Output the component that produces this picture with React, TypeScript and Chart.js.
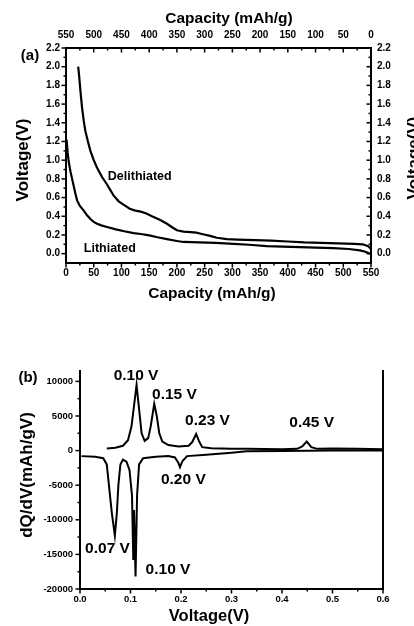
import React, { useEffect, useRef } from "react";
import { Chart, registerables } from "chart.js";

Chart.register(...registerables);

const FONT = "'Liberation Sans', Arial, Helvetica, sans-serif";

// ---------------- Panel (a): voltage profiles ----------------
const DELITH_CAP = [22, 24, 26, 29, 32, 35, 40, 44, 50, 56, 65, 74, 80, 86, 95, 105, 115, 125, 135, 145, 155, 170, 182, 192, 200, 212, 225, 235, 245, 260, 272, 290, 310, 340, 370, 400, 430, 460, 490, 520, 535, 545, 550];
const DELITH_V = [2.0, 1.88, 1.74, 1.56, 1.42, 1.31, 1.19, 1.1, 1.0, 0.92, 0.82, 0.74, 0.68, 0.62, 0.56, 0.52, 0.48, 0.46, 0.45, 0.43, 0.4, 0.36, 0.32, 0.28, 0.25, 0.235, 0.23, 0.225, 0.21, 0.19, 0.17, 0.155, 0.15, 0.145, 0.14, 0.13, 0.12, 0.115, 0.11, 0.105, 0.1, 0.08, 0.05];

const LITH_CAP = [1, 3, 5, 8, 11, 14, 17, 20, 25, 32, 38, 44, 50, 56, 65, 74, 90, 105, 122, 135, 150, 165, 182, 200, 212, 240, 270, 302, 330, 362, 390, 422, 450, 482, 510, 530, 540, 548];
const LITH_V = [1.22, 1.08, 0.98, 0.88, 0.8, 0.72, 0.64, 0.57, 0.51, 0.46, 0.41, 0.37, 0.34, 0.32, 0.3, 0.285, 0.26, 0.24, 0.22, 0.21, 0.195, 0.175, 0.155, 0.135, 0.125, 0.12, 0.115, 0.105, 0.095, 0.08, 0.075, 0.07, 0.065, 0.06, 0.05, 0.035, 0.02, 0.0];

const CAP_TICKS = [0, 50, 100, 150, 200, 250, 300, 350, 400, 450, 500, 550];
const VOLT_TICKS = [0, 0.2, 0.4, 0.6, 0.8, 1.0, 1.2, 1.4, 1.6, 1.8, 2.0, 2.2];
const A_CURVE_LABELS = ["Delithiated", "Lithiated"];
const A_CURVE_LABEL_CAP = [133, 79];
const A_CURVE_LABEL_V = [0.83, 0.057];

// ---------------- Panel (b): dQ/dV ----------------
const B_DELITH_V = [0.053, 0.07, 0.085, 0.095, 0.102, 0.107, 0.112, 0.117, 0.122, 0.128, 0.135, 0.14, 0.147, 0.152, 0.157, 0.163, 0.175, 0.195, 0.215, 0.222, 0.23, 0.236, 0.242, 0.26, 0.3, 0.33, 0.4, 0.43, 0.44, 0.449, 0.458, 0.47, 0.5, 0.55, 0.6];
const B_DELITH_DQ = [300, 400, 700, 1500, 3500, 6500, 9500, 6000, 2500, 1400, 1800, 3500, 6750, 5000, 2500, 1300, 800, 600, 700, 1200, 2400, 1300, 500, 350, 250, 250, 200, 250, 600, 1300, 500, 250, 300, 250, 200];

const B_LITH_V = [0.003, 0.03, 0.046, 0.053, 0.058, 0.063, 0.069, 0.073, 0.076, 0.08, 0.085, 0.092, 0.098, 0.103, 0.1055, 0.107, 0.11, 0.113, 0.117, 0.125, 0.15, 0.175, 0.188, 0.195, 0.198, 0.203, 0.212, 0.25, 0.3, 0.33, 0.4, 0.5, 0.6];
const B_LITH_DQ = [-800, -900, -1100, -2000, -5500, -9000, -12300, -9000, -5000, -2000, -1300, -1600, -2800, -6500, -15800, -8600, -18200, -6500, -2000, -1100, -900, -800, -1000, -1800, -2400, -1500, -800, -600, -300, -100, -50, 0, 0];

const VB_TICKS = [0, 0.1, 0.2, 0.3, 0.4, 0.5, 0.6];
const DQ_TICKS = [-20000, -15000, -10000, -5000, 0, 5000, 10000];
const B_PEAK_LABELS = ["0.10 V", "0.15 V", "0.23 V", "0.45 V", "0.20 V", "0.07 V", "0.10 V"];
const B_PEAK_LABEL_V = [0.111, 0.187, 0.2525, 0.4588, 0.2046, 0.0545, 0.1743];
const B_PEAK_LABEL_DQ = [10800, 8050, 4340, 3960, -4240, -14110, -17250];

// ---------------- helpers ----------------
type TickSpec = { major: number[]; dir: "in" | "out" };
type FreeText = { text: string; x: number; y: number; size: number; rot?: number };
type DataText = { text: string; x: number; y: number; size: number };

const minorOf = (major: number[]) => major.slice(1).map((v, i) => (v + major[i]) / 2);

function tickMarksPlugin(spec: Record<string, TickSpec>) {
  return {
    id: "tickMarks",
    afterDraw(chart: any) {
      const ctx = chart.ctx;
      ctx.save();
      ctx.strokeStyle = "#000";
      ctx.lineWidth = 1.5;
      for (const id of Object.keys(spec)) {
        const s = chart.scales[id];
        if (!s) continue;
        const { major, dir } = spec[id];
        const pos = s.options.position;
        let edge: number;
        let sign: number;
        if (pos === "bottom") { edge = s.top; sign = 1; }
        else if (pos === "top") { edge = s.bottom; sign = -1; }
        else if (pos === "left") { edge = s.right; sign = -1; }
        else { edge = s.left; sign = 1; }
        if (dir === "in") sign = -sign;
        const draw = (v: number, len: number) => {
          const p = s.getPixelForValue(v);
          ctx.beginPath();
          if (s.isHorizontal()) { ctx.moveTo(p, edge); ctx.lineTo(p, edge + sign * len); }
          else { ctx.moveTo(edge, p); ctx.lineTo(edge + sign * len, p); }
          ctx.stroke();
        };
        major.forEach((v) => draw(v, 4.5));
        minorOf(major).forEach((v) => draw(v, 2.5));
      }
      ctx.restore();
    },
  };
}

function textPlugin(free: FreeText[], data: DataText[]) {
  return {
    id: "texts",
    afterDraw(chart: any) {
      const ctx = chart.ctx;
      ctx.save();
      ctx.fillStyle = "#000";
      ctx.textAlign = "center";
      ctx.textBaseline = "middle";
      for (const t of free) {
        ctx.save();
        ctx.translate(t.x, t.y);
        if (t.rot) ctx.rotate(t.rot);
        ctx.font = `bold ${t.size}px ${FONT}`;
        ctx.fillText(t.text, 0, 0);
        ctx.restore();
      }
      for (const t of data) {
        const x = chart.scales.x.getPixelForValue(t.x);
        const y = chart.scales.y.getPixelForValue(t.y);
        ctx.font = `bold ${t.size}px ${FONT}`;
        ctx.fillText(t.text, x, y);
      }
      ctx.restore();
    },
  };
}

function linAxis(o: {
  position: string; min: number; max: number; ticks: number[]; fmt: (v: number) => string;
  size: number; fontSize: number; padding: number; reverse?: boolean; showLabels?: boolean;
}) {
  const horizontal = o.position === "top" || o.position === "bottom";
  return {
    type: "linear",
    position: o.position,
    min: o.min,
    max: o.max,
    reverse: !!o.reverse,
    grid: { display: false, drawOnChartArea: false, drawTicks: false },
    border: { display: true, color: "#000", width: 2 },
    ticks: {
      display: o.showLabels !== false,
      color: "#000",
      font: { family: FONT, size: o.fontSize, weight: "bold" },
      padding: o.padding,
      autoSkip: false,
      maxRotation: 0,
      minRotation: 0,
      callback: (v: any) => o.fmt(Number(v)),
    },
    afterBuildTicks: (s: any) => {
      s.ticks = o.ticks.map((v) => ({ value: v }));
    },
    afterFit: (s: any) => {
      if (horizontal) s.height = o.size;
      else s.width = o.size;
    },
  };
}

function makePanelA(canvas: HTMLCanvasElement) {
  const delith = DELITH_CAP.map((c, i) => ({ x: c, y: DELITH_V[i] }));
  const lith = LITH_CAP.map((c, i) => ({ x: c, y: LITH_V[i] }));
  const capFmt = (v: number) => String(Math.round(v));
  const vFmt = (v: number) => v.toFixed(1);
  const free: FreeText[] = [
    { text: "Capacity (mAh/g)", x: 229, y: 19, size: 15.5 },
    { text: "Capacity (mAh/g)", x: 212, y: 294, size: 15.5 },
    { text: "Voltage(V)", x: 23, y: 160, size: 17, rot: -Math.PI / 2 },
    { text: "Voltage(V)", x: 414, y: 158, size: 17, rot: -Math.PI / 2 },
    { text: "(a)", x: 30, y: 56, size: 15 },
  ];
  const dataTexts: DataText[] = A_CURVE_LABELS.map((t, i) => ({
    text: t, x: A_CURVE_LABEL_CAP[i], y: A_CURVE_LABEL_V[i], size: 12.5,
  }));
  return new Chart(canvas, {
    type: "scatter",
    data: {
      datasets: [
        { data: delith, showLine: true, borderColor: "#000", borderWidth: 2.2, pointRadius: 0, tension: 0 },
        { data: lith, showLine: true, borderColor: "#000", borderWidth: 2.2, pointRadius: 0, tension: 0 },
      ],
    },
    options: {
      animation: false,
      responsive: false,
      maintainAspectRatio: false,
      layout: { padding: 0 },
      plugins: { legend: { display: false }, tooltip: { enabled: false }, title: { display: false } },
      scales: {
        x: linAxis({ position: "bottom", min: 0, max: 550, ticks: CAP_TICKS, fmt: capFmt, size: 47, fontSize: 10, padding: 4 }),
        x2: linAxis({ position: "top", min: 0, max: 550, ticks: CAP_TICKS, fmt: capFmt, size: 48, fontSize: 10, padding: 7, reverse: true }),
        y: linAxis({ position: "left", min: -0.1, max: 2.2, ticks: VOLT_TICKS, fmt: vFmt, size: 66, fontSize: 10, padding: 6 }),
        y2: linAxis({ position: "right", min: -0.1, max: 2.2, ticks: VOLT_TICKS, fmt: vFmt, size: 43, fontSize: 10, padding: 6 }),
      } as any,
    },
    plugins: [
      tickMarksPlugin({
        x: { major: CAP_TICKS, dir: "out" },
        x2: { major: CAP_TICKS, dir: "in" },
        y: { major: VOLT_TICKS, dir: "out" },
        y2: { major: VOLT_TICKS, dir: "in" },
      }),
      textPlugin(free, dataTexts),
    ],
  } as any);
}

function makePanelB(canvas: HTMLCanvasElement) {
  const delith = B_DELITH_V.map((v, i) => ({ x: v, y: B_DELITH_DQ[i] }));
  const lith = B_LITH_V.map((v, i) => ({ x: v, y: B_LITH_DQ[i] }));
  const vFmt = (v: number) => v.toFixed(1);
  const dqFmt = (v: number) => String(Math.round(v));
  const free: FreeText[] = [
    { text: "(b)", x: 28, y: 68, size: 15 },
    { text: "dQ/dV(mAh/gV)", x: 27, y: 165, size: 17, rot: -Math.PI / 2 },
    { text: "Voltage(V)", x: 209, y: 306, size: 16.5 },
  ];
  const dataTexts: DataText[] = B_PEAK_LABELS.map((t, i) => ({
    text: t, x: B_PEAK_LABEL_V[i], y: B_PEAK_LABEL_DQ[i], size: 15.5,
  }));
  return new Chart(canvas, {
    type: "scatter",
    data: {
      datasets: [
        { data: delith, showLine: true, borderColor: "#000", borderWidth: 2, pointRadius: 0, tension: 0 },
        { data: lith, showLine: true, borderColor: "#000", borderWidth: 2, pointRadius: 0, tension: 0 },
      ],
    },
    options: {
      animation: false,
      responsive: false,
      maintainAspectRatio: false,
      layout: { padding: { top: 61, left: 0, right: 0, bottom: 0 } },
      plugins: { legend: { display: false }, tooltip: { enabled: false }, title: { display: false } },
      scales: {
        x: linAxis({ position: "bottom", min: 0, max: 0.6, ticks: VB_TICKS, fmt: vFmt, size: 37, fontSize: 9.5, padding: 5 }),
        y: linAxis({ position: "left", min: -20000, max: 11500, ticks: DQ_TICKS, fmt: dqFmt, size: 80, fontSize: 9.5, padding: 7 }),
        y2: linAxis({ position: "right", min: -20000, max: 11500, ticks: DQ_TICKS, fmt: dqFmt, size: 31, fontSize: 9.5, padding: 6, showLabels: false }),
      } as any,
    },
    plugins: [
      tickMarksPlugin({
        x: { major: VB_TICKS, dir: "out" },
        y: { major: DQ_TICKS, dir: "out" },
      }),
      textPlugin(free, dataTexts),
    ],
  } as any);
}

export default function App() {
  const refA = useRef<HTMLCanvasElement | null>(null);
  const refB = useRef<HTMLCanvasElement | null>(null);

  useEffect(() => {
    const a = refA.current ? makePanelA(refA.current) : null;
    const b = refB.current ? makePanelB(refB.current) : null;
    return () => {
      a?.destroy();
      b?.destroy();
    };
  }, []);

  return (
    <div style={{ position: "fixed", left: 0, top: 0, width: 414, height: 626, background: "#fff", overflow: "hidden" }}>
      <canvas ref={refA} width={414} height={310} style={{ position: "absolute", left: 0, top: 0, width: 414, height: 310 }} />
      <canvas ref={refB} width={414} height={316} style={{ position: "absolute", left: 0, top: 310, width: 414, height: 316 }} />
    </div>
  );
}
